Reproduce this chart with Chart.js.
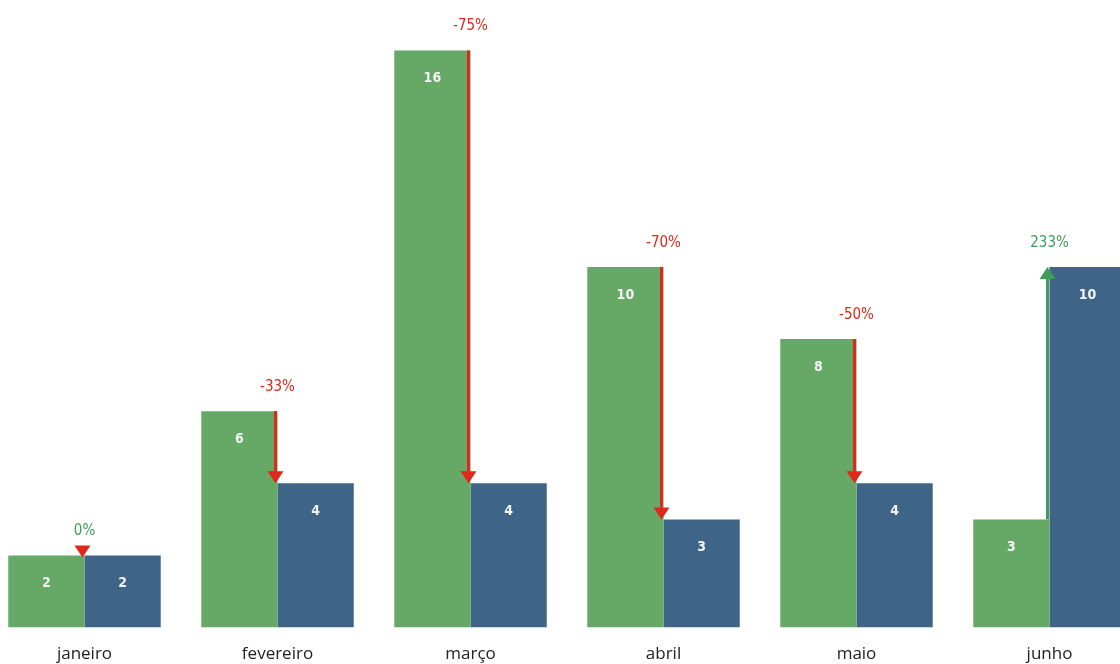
<!DOCTYPE html>
<html>
<head>
<meta charset="utf-8">
<script src="https://cdn.jsdelivr.net/npm/chart.js@4/dist/chart.umd.min.js"></script>
<style>
  html, body { margin: 0; padding: 0; background: #fff; overflow: hidden; }
  #wrap { position: absolute; left: -12px; top: 0; width: 1158px; height: 680px; }
</style>
</head>
<body>
<div id="wrap"><canvas id="chart"></canvas></div>
<script>
var months = ["janeiro", "fevereiro", "março", "abril", "maio", "junho"];
var valuesBefore = [2, 6, 16, 10, 8, 3];
var valuesAfter = [2, 4, 4, 3, 4, 10];
var changeLabels = ["0%", "-33%", "-75%", "-70%", "-50%", "233%"];

const greenBar = "#66a866";
const blueBar = "#3e6488";
const redArrow = "#e1261c";
const greenArrow = "#3f9c5c";

// rotulos dentro das barras + setas de variacao
var arrowPlugin = {
  id: "arrows",
  afterDatasetsDraw: function(chart) {
    var ctx = chart.ctx;
    var x = chart.scales.x;
    var y = chart.scales.y;
    var metaA = chart.getDatasetMeta(0);
    var metaB = chart.getDatasetMeta(1);

    ctx.save();
    ctx.font = "bold 14px 'DejaVu Sans Condensed', 'DejaVu Sans'";
    ctx.fillStyle = "#f4f4f4";
    ctx.textAlign = "center";
    ctx.textBaseline = "middle";
    for (var i = 0; i < months.length; i++) {
      var a = metaA.data[i];
      var b = metaB.data[i];
      ctx.fillText(valuesBefore[i], a.x, a.y + 28);
      ctx.fillText(valuesAfter[i], b.x, b.y + 28);
    }

    for (var i = 0; i < months.length; i++) {
      var cx = x.getPixelForValue(i) - 2;
      var y1 = y.getPixelForValue(valuesBefore[i]);
      var y2 = y.getPixelForValue(valuesAfter[i]);
      var up = valuesAfter[i] > valuesBefore[i];
      var clr = up ? greenArrow : redArrow;
      var labelClr = changeLabels[i] == "0%" ? greenArrow : clr;

      ctx.strokeStyle = clr;
      ctx.fillStyle = clr;
      ctx.lineWidth = 3;
      if (y1 != y2) {
        var tipY = y2;
        var baseY = up ? y2 + 12 : y2 - 12;
        ctx.beginPath();
        ctx.moveTo(cx, y1);
        ctx.lineTo(cx, baseY);
        ctx.stroke();
        ctx.beginPath();
        ctx.moveTo(cx - 8, baseY);
        ctx.lineTo(cx + 8, baseY);
        ctx.lineTo(cx, tipY);
        ctx.closePath();
        ctx.fill();
      } else {
        ctx.beginPath();
        ctx.moveTo(cx - 8, y2 - 10);
        ctx.lineTo(cx + 8, y2 - 10);
        ctx.lineTo(cx, y2 + 2);
        ctx.closePath();
        ctx.fill();
      }

      var topY = Math.min(y1, y2);
      ctx.fillStyle = labelClr;
      ctx.font = "15px 'DejaVu Sans Condensed', 'DejaVu Sans'";
      ctx.textBaseline = "alphabetic";
      ctx.fillText(changeLabels[i], cx + 2, topY - 20);
    }
    ctx.restore();
  }
};

new Chart(document.getElementById("chart"), {
  type: "bar",
  data: {
    labels: months,
    datasets: [
      { data: valuesBefore, backgroundColor: greenBar },
      { data: valuesAfter, backgroundColor: blueBar }
    ]
  },
  options: {
    responsive: true,
    maintainAspectRatio: false,
    animation: false,
    layout: { padding: { top: 0, bottom: 0, left: 0, right: 0 } },
    datasets: { bar: { categoryPercentage: 0.79, barPercentage: 1 } },
    plugins: { legend: { display: false }, tooltip: { enabled: false } },
    scales: {
      x: {
        grid: { display: false, drawTicks: false },
        border: { display: false },
        ticks: { color: "#222", padding: 16, font: { size: 17, family: "'Open Sans', 'DejaVu Sans'" } }
      },
      y: {
        display: false,
        min: 0,
        max: 17.4
      }
    }
  },
  plugins: [arrowPlugin]
});
</script>
</body>
</html>
